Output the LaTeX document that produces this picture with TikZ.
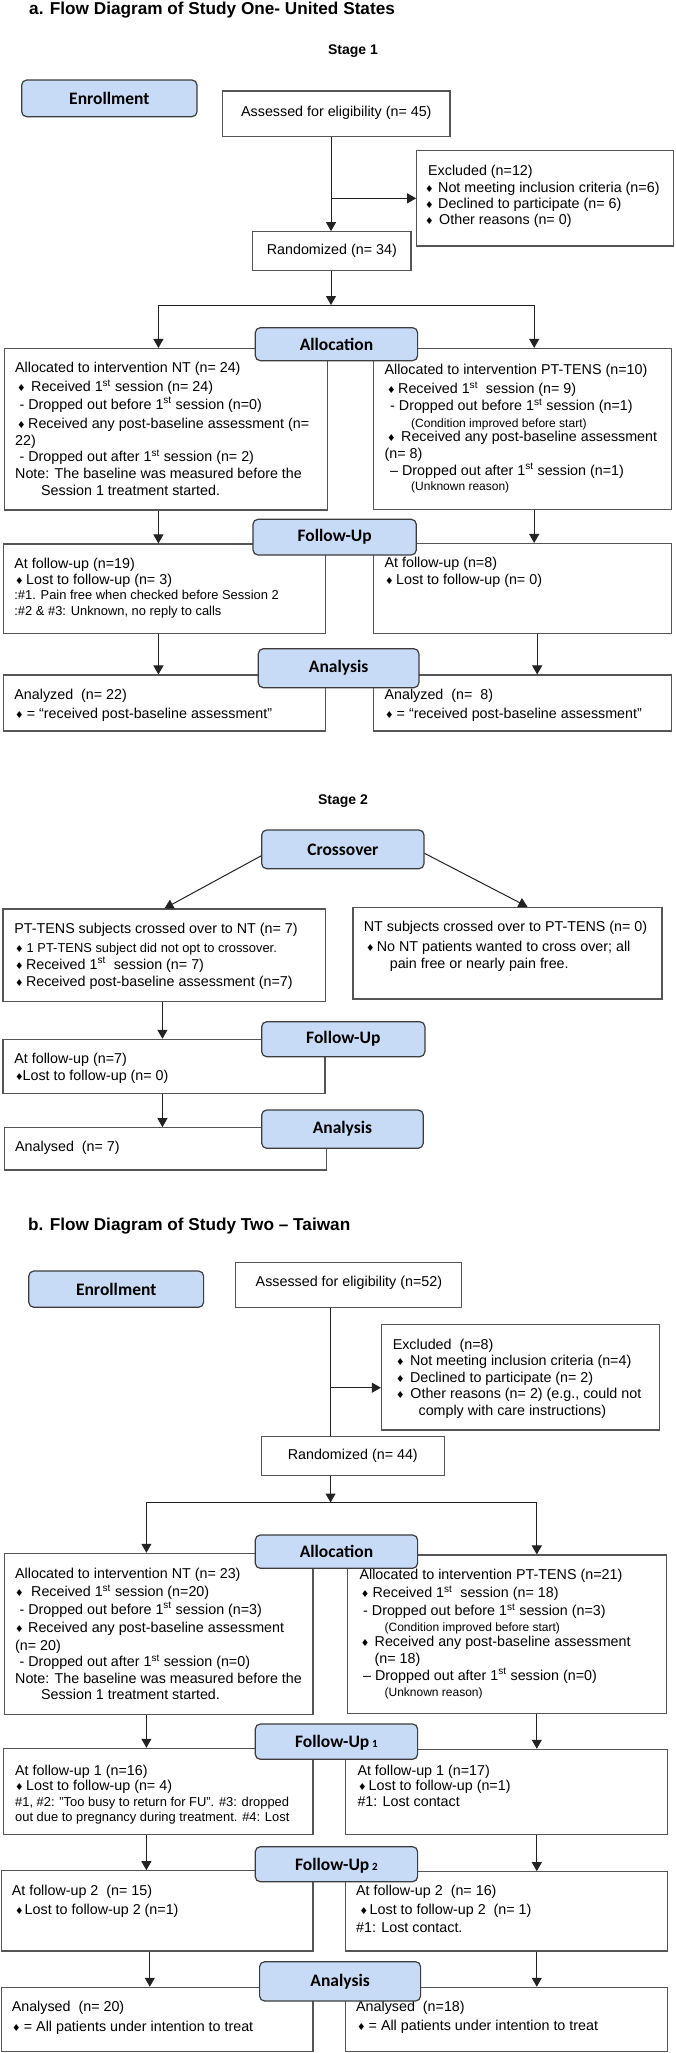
\documentclass[tikz,border=0pt]{standalone}
\usepackage{fontspec}
\setmainfont{Liberation Sans}
\newfontfamily\hdrfont{Carlito}
\newfontfamily\dejavu{DejaVu Sans}
\usetikzlibrary{arrows.meta,fit}
\definecolor{hdrfill}{RGB}{200,219,246}
\definecolor{hdrc}{RGB}{60,60,60}
\definecolor{boxc}{RGB}{85,85,85}
\definecolor{linec}{RGB}{35,35,35}
\newcommand\dmd{{\dejavu\fontsize{9.5}{9.5}\selectfont ♦}}
\newcommand\bl[1]{\makebox[#1pt][l]{\dmd}}
\newcommand\sts{\textsuperscript{st}}
\newcommand\fs{\fontsize{14.3}{17}\selectfont}
\begin{document}
\begin{tikzpicture}[x=1pt,y=-1pt,
  box/.style={draw=boxc, line width=1.1pt, fill=white, inner sep=0pt},
  hdr/.style={draw=hdrc, line width=1.2pt, fill=hdrfill, rounded corners=5pt, inner sep=0pt},
  hdt/.style={anchor=center, inner sep=0pt, font=\hdrfont\bfseries\fontsize{17.5}{20}\selectfont},
  ctx/.style={anchor=center, inner sep=0pt, font=\fs},
  tx/.style={anchor=base west, inner sep=0pt, font=\fs},
  sm/.style={anchor=base west, inner sep=0pt, font=\fontsize{12.9}{15}\selectfont},
  xs/.style={anchor=base west, inner sep=0pt, font=\fontsize{12}{14}\selectfont},
  ttl/.style={anchor=base west, inner sep=0pt, font=\bfseries\fontsize{17.2}{20}\selectfont},
  stg/.style={anchor=base, inner sep=0pt, font=\bfseries\fontsize{14}{16}\selectfont},
  arr/.style={draw=linec, line width=1pt, -{Triangle[length=9pt,width=10pt]}},
  ln/.style={draw=linec, line width=1pt}]
\useasboundingbox[fill=white] (0,0) rectangle (675,2053);

% ================= STUDY A =================
\node[ttl] (titleA) at (29,14) {a. Flow Diagram of Study One- United States};
\node[stg] (stage1) at (353,54) {Stage 1};

\node[box, fit={(222.7,91) (450,136.7)}] (assA) {};
\node[ctx] (assAt) at ([yshift=1.5pt]assA.center) {Assessed for eligibility (n= 45)};
\node[box, fit={(416.7,150.7) (673.7,246)}] (exA) {};
\node[tx] (exA1) at (428,175.5) {Excluded (n=12)};
\node[tx] (exA2) at (425,192) {\bl{13}Not meeting inclusion criteria (n=6)};
\node[tx] (exA3) at (425,208.3) {\bl{13}Declined to participate (n= 6)};
\node[tx] (exA4) at (425,224.7) {\bl{14}Other reasons (n= 0)};
\node[box, fit={(252.7,231.7) (411,270.3)}] (rndA) {};
\node[ctx] (rndAt) at (rndA.center) {Randomized (n= 34)};
\coordinate (splA) at (331,305);
\coordinate (spAL) at (158.4,305);
\coordinate (spAR) at (534.2,305);

\node[box, fit={(4.3,348.5) (327.2,510)}] (ntA) {};
\node[box, fit={(373.7,348.5) (671.5,509.5)}] (ptA) {};
\node[tx] (ntA1) at (15,372.5) {Allocated to intervention NT (n= 24)};
\node[tx] (ntA2) at (17,391.5) {\bl{14}Received 1\sts{} session (n= 24)};
\node[tx] (ntA3) at (19.4,409) {- Dropped out before 1\sts{} session (n=0)};
\node[tx] (ntA4) at (17,428) {\bl{11}Received any post-baseline assessment (n=};
\node[tx] (ntA5) at (15,445) {22)};
\node[tx] (ntA6) at (19.4,461.5) {- Dropped out after 1\sts{} session (n= 2)};
\node[tx] (ntA7) at (15,478) {Note: The baseline was measured before the};
\node[tx] (ntA8) at (41,495) {Session 1 treatment started.};

\node[tx] (ptA1) at (384.4,374) {Allocated to intervention PT-TENS (n=10)};
\node[tx] (ptA2) at (387,393.3) {\bl{11}Received 1\sts\ \ session (n= 9)};
\node[tx] (ptA3) at (390,410.7) {- Dropped out before 1\sts{} session (n=1)};
\node[xs] (ptA4) at (411,427) {(Condition improved before start)};
\node[tx] (ptA5) at (387,441.5) {\bl{14}Received any post-baseline assessment};
\node[tx] (ptA6) at (384.4,458) {(n= 8)};
\node[tx] (ptA7) at (390,475) {– Dropped out after 1\sts{} session (n=1)};
\node[xs] (ptA8) at (411,490.5) {(Unknown reason)};

\node[box, fit={(3.4,544) (325.9,633.3)}] (fuAL) {};
\node[box, fit={(373.7,543.5) (671.5,633.3)}] (fuAR) {};
\node[tx] (fuAL1) at (14.2,568) {At follow-up (n=19)};
\node[tx] (fuAL2) at (15,584.7) {\bl{11}Lost to follow-up (n= 3)};
\node[sm] (fuAL3) at (14.2,599.5) {:\#1. Pain free when checked before Session 2};
\node[sm] (fuAL4) at (14.2,615) {:\#2 \& \#3: Unknown, no reply to calls};
\node[tx] (fuAR1) at (384.4,567.5) {At follow-up (n=8)};
\node[tx] (fuAR2) at (385,584) {\bl{11}Lost to follow-up (n= 0)};

\node[box, fit={(3.4,675) (325.4,731)}] (anAL) {};
\node[box, fit={(373.7,675) (671.5,731)}] (anAR) {};
\node[tx] (anAL1) at (14.2,699) {Analyzed\ \ (n= 22)};
\node[tx] (anAL2) at (15,718) {\bl{11.7}= “received post-baseline assessment”};
\node[tx] (anAR1) at (384.4,699) {Analyzed\ \ (n=\ \ 8)};
\node[tx] (anAR2) at (385,718) {\bl{11.5}= “received post-baseline assessment”};

% ---- Stage 2
\node[stg] (stage2) at (343,804) {Stage 2};
\node[box, fit={(3,909) (325.9,1001.7)}] (crL) {};
\node[box, fit={(353,907.3) (662,999)}] (crR) {};
\node[tx] (crL1) at (14.2,933) {PT-TENS subjects crossed over to NT (n= 7)};
\node[sm] (crL2) at (15,952) {\bl{11.5}1 PT-TENS subject did not opt to crossover.};
\node[tx] (crL3) at (15,969) {\bl{10.8}Received 1\sts\ \ session (n= 7)};
\node[tx] (crL4) at (15,986) {\bl{10.8}Received post-baseline assessment (n=7)};
\node[tx] (crR1) at (363.7,931.5) {NT subjects crossed over to PT-TENS (n= 0)};
\node[tx] (crR2) at (366,951) {\bl{10.7}No NT patients wanted to cross over; all};
\node[tx] (crR3) at (389.6,968) {pain free or nearly pain free.};

\node[box, fit={(3,1039.3) (325,1093.3)}] (fuS) {};
\node[tx] (fuS1) at (14.2,1063) {At follow-up (n=7)};
\node[tx] (fuS2) at (15,1080) {\bl{7.4}Lost to follow-up (n= 0)};
\node[box, fit={(4.3,1127.7) (326.3,1170)}] (anS) {};
\node[tx] (anS1) at (15,1151.5) {Analysed\ \ (n= 7)};

% ================= STUDY B =================
\node[ttl] (titleB) at (28,1230.5) {b. Flow Diagram of Study Two – Taiwan};
\node[box, fit={(235.9,1262.3) (461.9,1307.3)}] (assB) {};
\node[ctx] (assBt) at ([yshift=2pt]assB.center) {Assessed for eligibility (n=52)};
\node[box, fit={(381.4,1324.7) (659.5,1430)}] (exB) {};
\node[tx] (exB1) at (392.6,1349) {Excluded\ \ (n=8)};
\node[tx] (exB2) at (396,1365.3) {\bl{13.8}Not meeting inclusion criteria (n=4)};
\node[tx] (exB3) at (396,1382) {\bl{13.8}Declined to participate (n= 2)};
\node[tx] (exB4) at (396,1398.7) {\bl{14.2}Other reasons (n= 2) (e.g., could not};
\node[tx] (exB5) at (418.4,1415.7) {comply with care instructions)};
\node[box, fit={(261.3,1436.7) (444.3,1475.7)}] (rndB) {};
\node[ctx] (rndBt) at (rndB.center) {Randomized (n= 44)};
\coordinate (brB) at (330.6,1387.7);
\coordinate (splB) at (330.6,1502.5);
\coordinate (spBL) at (146.4,1502.5);
\coordinate (spBR) at (536.8,1502.5);

\node[box, fit={(4.3,1553.3) (313,1714.3)}] (ntB) {};
\node[box, fit={(347.8,1555) (666.4,1713.3)}] (ptB) {};
\node[tx] (ntB1) at (15,1578) {Allocated to intervention NT (n= 23)};
\node[tx] (ntB2) at (15,1596.5) {\bl{16}Received 1\sts{} session (n=20)};
\node[tx] (ntB3) at (19.4,1614) {- Dropped out before 1\sts{} session (n=3)};
\node[tx] (ntB4) at (15,1632.5) {\bl{13}Received any post-baseline assessment};
\node[tx] (ntB5) at (15,1650) {(n= 20)};
\node[tx] (ntB6) at (19.4,1666.5) {- Dropped out after 1\sts{} session (n=0)};
\node[tx] (ntB7) at (15,1683) {Note: The baseline was measured before the};
\node[tx] (ntB8) at (40.9,1699) {Session 1 treatment started.};

\node[tx] (ptB1) at (359.4,1579) {Allocated to intervention PT-TENS (n=21)};
\node[tx] (ptB2) at (360.7,1597.5) {\bl{11.7}Received 1\sts\ \ session (n= 18)};
\node[tx] (ptB3) at (363,1615.5) {- Dropped out before 1\sts{} session (n=3)};
\node[xs] (ptB4) at (384.4,1631) {(Condition improved before start)};
\node[tx] (ptB5) at (360.7,1646.5) {\bl{13.8}Received any post-baseline assessment};
\node[tx] (ptB6) at (374.5,1663) {(n= 18)};
\node[tx] (ptB7) at (363,1680) {– Dropped out after 1\sts{} session (n=0)};
\node[xs] (ptB8) at (384.4,1696) {(Unknown reason)};

\node[box, fit={(3.4,1748.3) (313,1834.3)}] (fu1L) {};
\node[box, fit={(345.7,1749.3) (667.2,1834.3)}] (fu1R) {};
\node[tx] (fu1L1) at (15,1775) {At follow-up 1 (n=16)};
\node[tx] (fu1L2) at (15,1790.5) {\bl{11}Lost to follow-up (n= 4)};
\node[sm] (fu1L3) at (15,1806) {\#1, \#2: "Too busy to return for FU". \#3: dropped};
\node[sm] (fu1L4) at (15,1821) {out due to pregnancy during treatment. \#4: Lost};
\node[tx] (fu1R1) at (357.3,1775) {At follow-up 1 (n=17)};
\node[tx] (fu1R2) at (358,1790.5) {\bl{10.5}Lost to follow-up (n=1)};
\node[tx] (fu1R3) at (357.3,1806.5) {\#1: Lost contact};

\node[box, fit={(1.3,1870.7) (313,1951)}] (fu2L) {};
\node[box, fit={(345.7,1871.7) (667.2,1951)}] (fu2R) {};
\node[tx] (fu2L1) at (11.6,1895.5) {At follow-up 2\ \ (n= 15)};
\node[tx] (fu2L2) at (15,1914.7) {\bl{9.5}Lost to follow-up 2 (n=1)};
\node[tx] (fu2R1) at (356,1895.5) {At follow-up 2\ \ (n= 16)};
\node[tx] (fu2R2) at (359.5,1914.7) {\bl{10}Lost to follow-up 2\ \ (n= 1)};
\node[tx] (fu2R3) at (356,1932) {\#1: Lost contact.};

\node[box, fit={(1.3,1987.3) (313,2051.7)}] (anBL) {};
\node[box, fit={(345.7,1987.3) (667.2,2051.7)}] (anBR) {};
\node[tx] (anBL1) at (11.6,2011.5) {Analysed\ \ (n= 20)};
\node[tx] (anBL2) at (12,2031) {\bl{11.7}= All patients under intention to treat};
\node[tx] (anBR1) at (356,2011) {Analysed\ \ (n=18)};
\node[tx] (anBR2) at (357,2030) {\bl{11.5}= All patients under intention to treat};

% ================= HEADERS =================
\node[hdr, fit={(21.7,80) (197,116.7)}] (enrA) {};
\node[hdt] (enrAt) at (enrA.center) {Enrollment};
\node[hdr, fit={(255.3,327.7) (417.6,360.7)}] (alA) {};
\node[hdt] (alAt) at (alA.center) {Allocation};
\node[hdr, fit={(253,519.3) (416.3,555)}] (fuA) {};
\node[hdt] (fuAt) at (fuA.center) {Follow-Up};
\node[hdr, fit={(258.3,648.7) (418.9,687.7)}] (anA) {};
\node[hdt] (anAt) at (anA.center) {Analysis};
\node[hdr, fit={(261.7,830) (424,868.7)}] (crX) {};
\node[hdt] (crXt) at (crX.center) {Crossover};
\node[hdr, fit={(261.7,1021.7) (424.9,1056.7)}] (fuSH) {};
\node[hdt] (fuSHt) at (fuSH.center) {Follow-Up};
\node[hdr, fit={(261.7,1110) (423.2,1148.3)}] (anSH) {};
\node[hdt] (anSHt) at (anSH.center) {Analysis};
\node[hdr, fit={(28.8,1271) (203.6,1307.3)}] (enrB) {};
\node[hdt] (enrBt) at (enrB.center) {Enrollment};
\node[hdr, fit={(255.3,1535) (417.6,1568.3)}] (alB) {};
\node[hdt] (alBt) at (alB.center) {Allocation};
\node[hdr, fit={(255.3,1724) (417.6,1759.3)}] (fu1H) {};
\node[hdt, anchor=base] (fu1Ht) at ([yshift=-6pt]fu1H.center) {Follow-Up\,{\fontsize{11}{11}\selectfont 1}};
\node[hdr, fit={(255.3,1846.7) (417.6,1881.7)}] (fu2H) {};
\node[hdt, anchor=base] (fu2Ht) at ([yshift=-6pt]fu2H.center) {Follow-Up\,{\fontsize{11}{11}\selectfont 2}};
\node[hdr, fit={(259.6,1961.7) (420.6,2001)}] (anBH) {};
\node[hdt] (anBHt) at (anBH.center) {Analysis};

% ================= CONNECTORS A =================
\draw[arr] (assA.south -| splA) -- (rndA.north -| splA);
\draw[arr] (splA |- exA.west) -- (exA.west);
\draw[arr] (rndA.south -| splA) -- (splA);
\draw[ln] (spAL) -- (spAR);
\draw[arr] (spAL) -- (spAL |- ntA.north);
\draw[arr] (spAR) -- (spAR |- ptA.north);
\draw[arr] (ntA.south -| spAL) -- (fuAL.north -| spAL);
\draw[arr] (ptA.south -| spAR) -- (fuAR.north -| spAR);
\draw[arr] (fuAL.south -| spAL) -- (anAL.north -| spAL);
\draw[arr] ([xshift=3pt]fuAR.south -| spAR) -- ([xshift=3pt]anAR.north -| spAR);

\draw[arr] ([yshift=-6.5pt]crX.west) -- (crL.north);
\draw[arr] ([yshift=-4pt]crX.east) -- ([xshift=20pt]crR.north);
\draw[arr] ([xshift=-2pt]crL.south) -- ([xshift=-2pt]crL.south |- fuS.north);
\draw[arr] ([xshift=-2pt]crL.south |- fuS.south) -- ([xshift=-2pt]crL.south |- anS.north);

% ================= CONNECTORS B =================
\draw[ln] (assB.south -| brB) -- (rndB.north -| brB);
\draw[arr] (brB) -- (brB -| exB.west);
\draw[arr] (rndB.south -| splB) -- (splB);
\draw[ln] (spBL) -- (spBR);
\draw[arr] (spBL) -- (spBL |- ntB.north);
\draw[arr] (spBR) -- (spBR |- ptB.north);
\draw[arr] (ntB.south -| spBL) -- (fu1L.north -| spBL);
\draw[arr] (ptB.south -| spBR) -- (fu1R.north -| spBR);
\draw[arr] (fu1L.south -| spBL) -- (fu2L.north -| spBL);
\draw[arr] (fu1R.south -| spBR) -- (fu2R.north -| spBR);
\draw[arr] ([xshift=3.4pt]fu2L.south -| spBL) -- ([xshift=3.4pt]anBL.north -| spBL);
\draw[arr] (fu2R.south -| spBR) -- (anBR.north -| spBR);
\end{tikzpicture}
\end{document}
